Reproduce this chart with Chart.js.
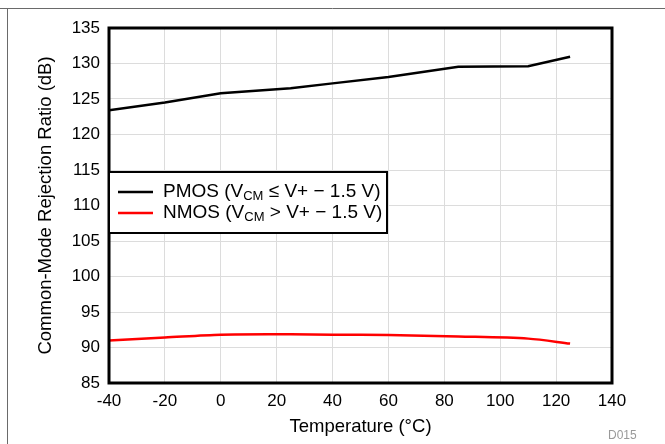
<!DOCTYPE html>
<html lang="en">
<head>
<meta charset="UTF-8">
<title>CMRR vs Temperature</title>
<script src="https://cdn.jsdelivr.net/npm/chart.js"></script>
<style>
  html, body { margin: 0; padding: 0; background: #fff; }
  #wrap { width: 665px; height: 444px; }
</style>
</head>
<body>
<div id="wrap"><canvas id="chart" width="665" height="444"></canvas></div>
<script>
// temperatures (°C) where the curves were read
const temps = [-40, -20, 0, 25, 40, 60, 85, 110, 125];
// CMRR in dB
const pmos = [123.4, 124.5, 125.8, 126.5, 127.2, 128.1, 129.55, 129.6, 130.95];
const nmos = [91.0, 91.4, 91.8, 91.85, 91.8, 91.75, 91.55, 91.25, 90.55];
const xTicks = [-40, -20, 0, 20, 40, 60, 80, 100, 120, 140];
const yTicks = [85, 90, 95, 100, 105, 110, 115, 120, 125, 130, 135];

const FONT = 'Arial, "Liberation Sans", sans-serif';

function pts(ys) {
  return temps.map((t, i) => ({ x: t, y: ys[i] }));
}

// frame, plot border, legend with subscripts, figure id
const decor = {
  id: 'decor',
  afterDraw(chart) {
    const ctx = chart.ctx;
    const a = chart.chartArea;
    ctx.save();

    // outer frame lines
    ctx.strokeStyle = '#6a6a6a';
    ctx.lineWidth = 1;
    ctx.beginPath();
    ctx.moveTo(0, 8.5); ctx.lineTo(665, 8.5);
    ctx.moveTo(7.5, 8.5); ctx.lineTo(7.5, 444);
    ctx.stroke();

    // plot box
    ctx.strokeStyle = '#000';
    ctx.lineWidth = 3;
    ctx.strokeRect(a.left, a.top, a.right - a.left, a.bottom - a.top);

    // legend
    const lx = a.left, ly = 172, lw = 278, lh = 61;
    ctx.fillStyle = '#fff';
    ctx.fillRect(lx, ly, lw, lh);
    ctx.lineWidth = 2;
    ctx.strokeStyle = '#000';
    ctx.strokeRect(lx, ly, lw, lh);

    const rows = [
      { color: '#000', name: 'PMOS (V', rel: ' \u2264 V+ \u2212 1.5 V)', y: ly + 20 },
      { color: '#ff0000', name: 'NMOS (V', rel: ' > V+ \u2212 1.5 V)', y: ly + 41 }
    ];
    ctx.textBaseline = 'middle';
    ctx.textAlign = 'left';
    rows.forEach(r => {
      ctx.strokeStyle = r.color;
      ctx.lineWidth = 2.5;
      ctx.beginPath();
      ctx.moveTo(lx + 9, r.y); ctx.lineTo(lx + 44, r.y);
      ctx.stroke();
      let x = lx + 54;
      ctx.fillStyle = '#000';
      ctx.font = '19px ' + FONT;
      ctx.fillText(r.name, x, r.y);
      x += ctx.measureText(r.name).width;
      ctx.font = '13px ' + FONT;
      ctx.fillText('CM', x, r.y + 4);
      x += ctx.measureText('CM').width;
      ctx.font = '19px ' + FONT;
      ctx.fillText(r.rel, x, r.y);
    });

    // figure id
    ctx.fillStyle = '#999';
    ctx.font = '12px ' + FONT;
    ctx.fillText('D015', 608, 436);
    ctx.restore();
  }
};

new Chart(document.getElementById('chart'), {
  type: 'line',
  data: {
    datasets: [
      { label: 'PMOS', data: pts(pmos), borderColor: '#000', borderWidth: 2.5, pointRadius: 0, tension: 0 },
      { label: 'NMOS', data: pts(nmos), borderColor: '#ff0000', borderWidth: 2.5, pointRadius: 0, tension: 0.3 }
    ]
  },
  options: {
    responsive: false,
    animation: false,
    events: [],
    layout: { padding: { left: 0, top: 28, right: 53, bottom: 0 } },
    plugins: { legend: { display: false }, tooltip: { enabled: false } },
    scales: {
      x: {
        type: 'linear',
        min: -40, max: 140,
        afterFit: s => { s.height = 61; },
        afterBuildTicks: s => { s.ticks = xTicks.map(v => ({ value: v })); },
        grid: { color: '#dcdcdc', lineWidth: 1, drawTicks: false },
        border: { display: false },
        ticks: { color: '#000', font: { size: 17, family: FONT }, padding: 8, maxRotation: 0 },
        title: { display: true, text: 'Temperature (\u00B0C)', color: '#000', font: { size: 18.5, family: FONT }, padding: { top: 0, bottom: 6 } }
      },
      y: {
        min: 85, max: 135,
        afterFit: s => { s.width = 109; },
        afterBuildTicks: s => { s.ticks = yTicks.map(v => ({ value: v })); },
        grid: { color: '#dcdcdc', lineWidth: 1, drawTicks: false },
        border: { display: false },
        ticks: { color: '#000', font: { size: 17, family: FONT }, padding: 9 },
        title: { display: true, text: 'Common-Mode Rejection Ratio (dB)', color: '#000', font: { size: 18.5, family: FONT }, padding: { top: 35, bottom: 0 } }
      }
    }
  },
  plugins: [decor]
});
</script>
</body>
</html>
